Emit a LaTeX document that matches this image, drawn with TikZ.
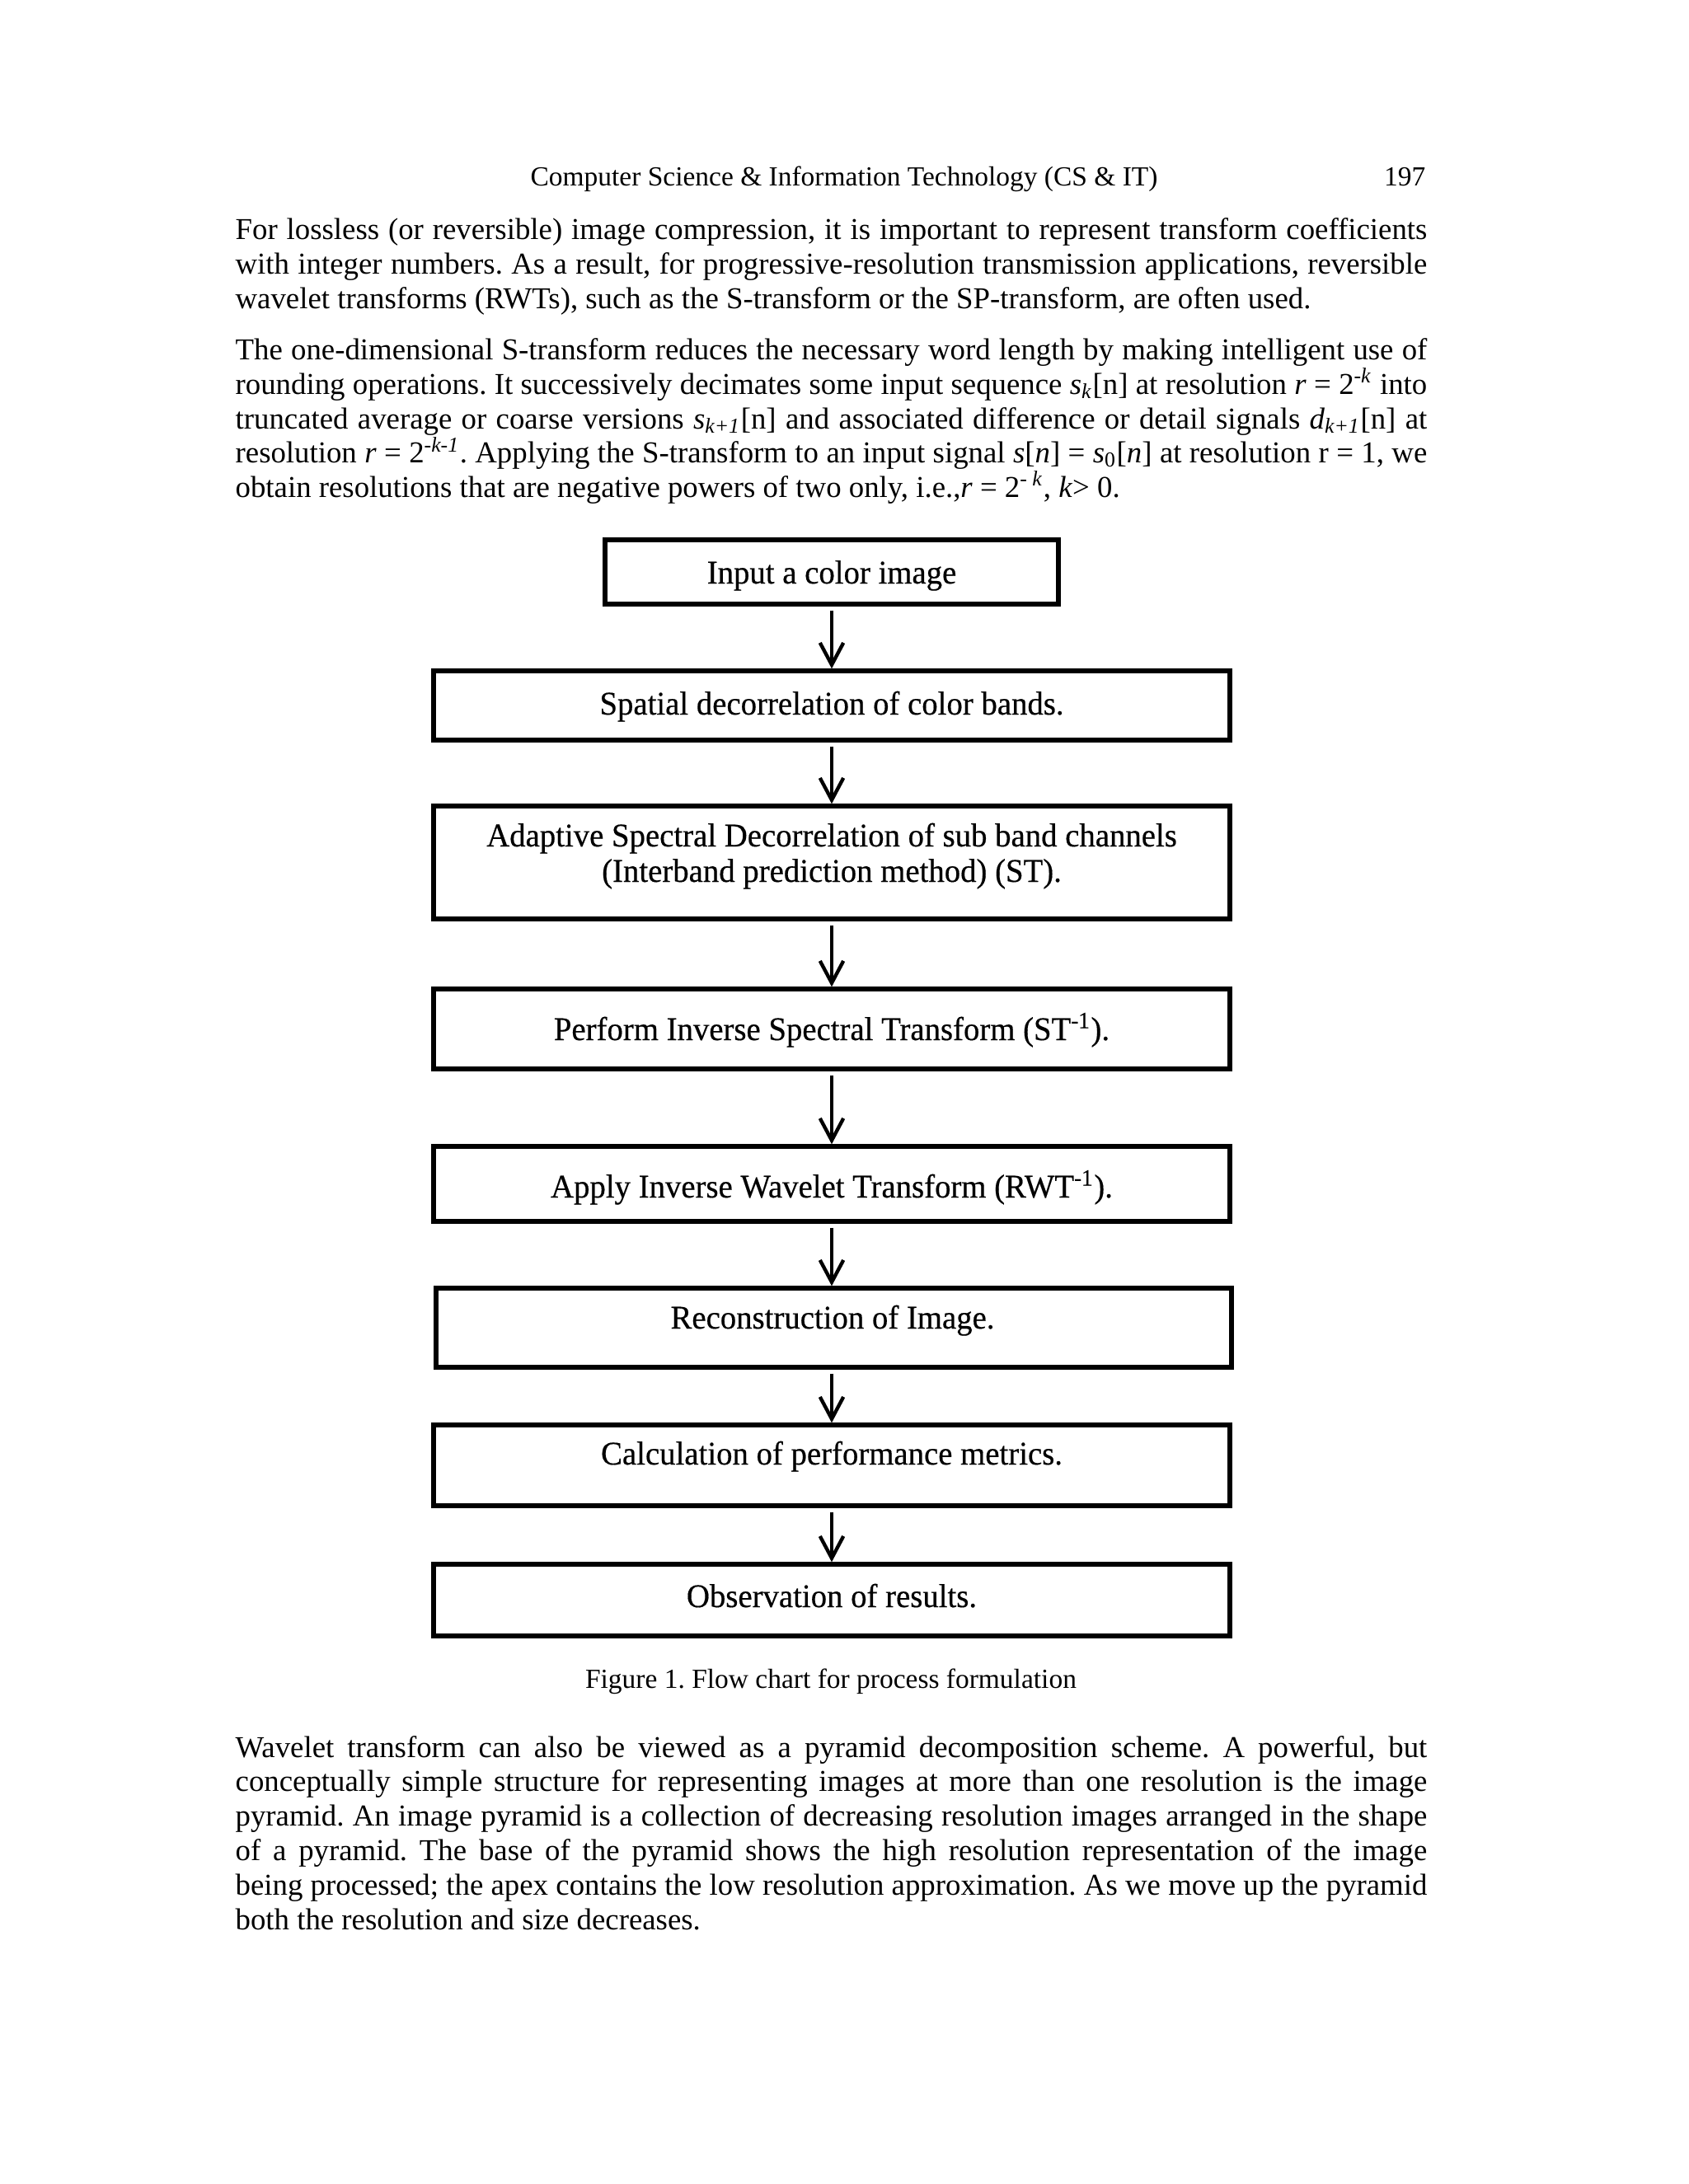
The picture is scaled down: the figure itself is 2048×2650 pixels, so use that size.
\documentclass[tikz,border=0pt]{standalone}
\usepackage{fontspec}
\setmainfont{Liberation Serif}
\newfontfamily\boxfont[FakeStretch=0.965,FakeBold=0.4]{Liberation Serif}
\usetikzlibrary{arrows.meta,fit}
\frenchspacing
\newlength\tw \setlength\tw{432bp}
\newcommand\bodysize{\fontsize{11.04pt}{12.6pt}\selectfont}
\newcommand\smallsize{\fontsize{10.04pt}{12pt}\selectfont}
\newcommand\flowsize{\boxfont\fontsize{12.05pt}{12.95bp}\selectfont}
\newcommand\jl[1]{\makebox[\tw][s]{#1}}
\begin{document}
\begin{tikzpicture}[x=0.298828bp,y=-0.298828bp,
  txtline/.style={anchor=base west,inner sep=0pt,font=\bodysize},
  smalltxt/.style={inner sep=0pt,font=\smallsize},
  flowbox/.style={draw,line width=1.6bp,inner sep=0pt},
  flowtext/.style={anchor=base,inner sep=0pt,font=\flowsize,align=center},
  conn/.style={line width=1.3bp,shorten <=1.5bp,-{Straight Barb[length=8bp,width=8.5bp]}}]
\useasboundingbox[fill=white] (0,0) rectangle (2048,2650);

% header
\node[smalltxt,anchor=base] (hdr) at (1024,225) {Computer Science \& Information Technology (CS \& IT)};
\node[smalltxt,anchor=base east] (pgno) at (1730,225) {197};

% paragraph 1
\node[txtline] (pa1) at (285,290) {\jl{For lossless (or reversible) image compression, it is important to represent transform coefficients}};
\node[txtline] (pa2) at (285,332) {\jl{with integer numbers. As a result, for progressive-resolution transmission applications, reversible}};
\node[txtline] (pa3) at (285,374) {wavelet transforms (RWTs), such as the S-transform or the SP-transform, are often used.};

% paragraph 2
\node[txtline] (pb1) at (285,436.5) {\jl{The one-dimensional S-transform reduces the necessary word length by making intelligent use of}};
\node[txtline] (pb2) at (285,478) {\jl{rounding operations. It successively decimates some input sequence \textit{s}\textsubscript{\textit{k}}[n] at resolution \textit{r} = 2\textsuperscript{-\textit{k}} into}};
\node[txtline] (pb3) at (285,520) {\jl{truncated average or coarse versions \textit{s}\textsubscript{\textit{k+1}}[n] and associated difference or detail signals \textit{d}\textsubscript{\textit{k+1}}[n] at}};
\node[txtline] (pb4) at (285,561.5) {\jl{resolution \textit{r} = 2\textsuperscript{-\textit{k-1}}. Applying the S-transform to an input signal \textit{s}[\textit{n}] = \textit{s}\textsubscript{0}[\textit{n}] at resolution r = 1, we}};
\node[txtline] (pb5) at (285,603) {obtain resolutions that are negative powers of two only, i.e.,\textit{r} = 2\textsuperscript{- \textit{k}}, \textit{k}> 0.};

% flow chart boxes
\node[flowbox,fit={(734,655) (1284,733)}] (b1) {};
\node[flowbox,fit={(526,814) (1492,898)}] (b2) {};
\node[flowbox,fit={(526,978) (1492,1115)}] (b3) {};
\node[flowbox,fit={(526,1200) (1492,1297)}] (b4) {};
\node[flowbox,fit={(526,1391) (1492,1482)}] (b5) {};
\node[flowbox,fit={(529,1563) (1494,1659)}] (b6) {};
\node[flowbox,fit={(526,1729) (1492,1827)}] (b7) {};
\node[flowbox,fit={(526,1898) (1492,1985)}] (b8) {};

% flow chart texts
\node[flowtext] (t1) at (1009,708) {Input a color image};
\node[flowtext] (t2) at (1009,867) {Spatial decorrelation of color bands.};
\node[flowtext] (t3a) at (1009,1027) {Adaptive Spectral Decorrelation of sub band channels};
\node[flowtext] (t3b) at (1009,1070) {(Interband prediction method) (ST).};
\node[flowtext] (t4) at (1009,1262) {Perform Inverse Spectral Transform (ST\textsuperscript{-1}).};
\node[flowtext] (t5) at (1009,1453) {Apply Inverse Wavelet Transform (RWT\textsuperscript{-1}).};
\node[flowtext] (t6) at (1010,1612) {Reconstruction of Image.};
\node[flowtext] (t7) at (1009,1777) {Calculation of performance metrics.};
\node[flowtext] (t8) at (1009,1950) {Observation of results.};

% connectors
\draw[conn] (b1.south) -- (b1.south |- b2.north);
\draw[conn] (b2.south) -- (b2.south |- b3.north);
\draw[conn] (b3.south) -- (b3.south |- b4.north);
\draw[conn] (b4.south) -- (b4.south |- b5.north);
\draw[conn] (b5.south) -- (b5.south |- b6.north);
\draw[conn] (b6.south -| b5.south) -- (b5.south |- b7.north);
\draw[conn] (b7.south) -- (b7.south |- b8.north);

% caption
\node[smalltxt,anchor=base] (cap) at (1008,2048) {Figure 1. Flow chart for process formulation};

% paragraph 3
\node[txtline] (pc1) at (285,2132) {\jl{Wavelet transform can also be viewed as a pyramid decomposition scheme. A powerful, but}};
\node[txtline] (pc2) at (285,2173.5) {\jl{conceptually simple structure for representing images at more than one resolution is the image}};
\node[txtline] (pc3) at (285,2215) {\jl{pyramid. An image pyramid is a collection of decreasing resolution images arranged in the shape}};
\node[txtline] (pc4) at (285,2257) {\jl{of a pyramid. The base of the pyramid shows the high resolution representation of the image}};
\node[txtline] (pc5) at (285,2299) {\jl{being processed; the apex contains the low resolution approximation. As we move up the pyramid}};
\node[txtline] (pc6) at (285,2341) {both the resolution and size decreases.};
\end{tikzpicture}
\end{document}
